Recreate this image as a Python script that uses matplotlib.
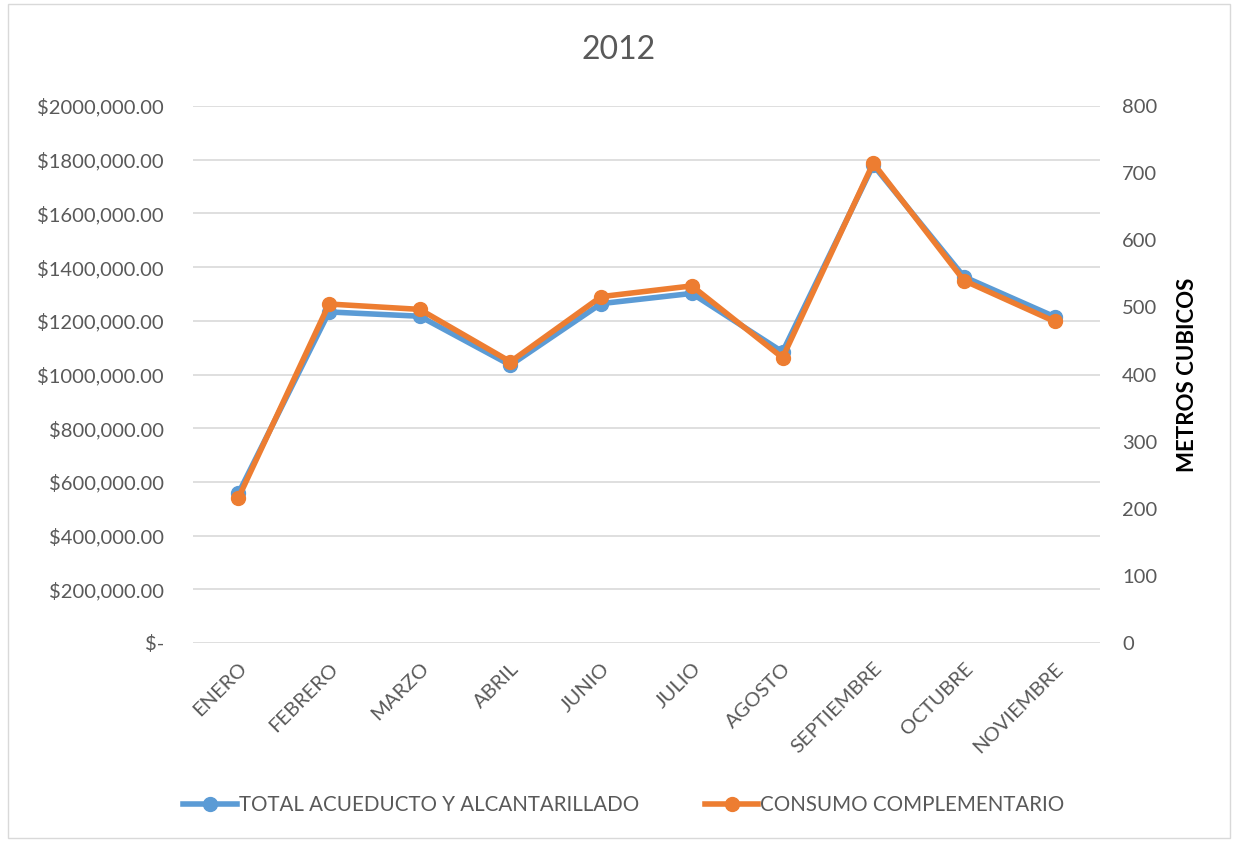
import matplotlib
matplotlib.use("Agg")
import matplotlib.pyplot as plt
from matplotlib.ticker import FuncFormatter, MultipleLocator
from matplotlib.patches import Rectangle

plt.rcParams['font.family'] = ['Lato', 'DejaVu Sans']

months = ["ENERO", "FEBRERO", "MARZO", "ABRIL", "JUNIO", "JULIO", "AGOSTO",
          "SEPTIEMBRE", "OCTUBRE", "NOVIEMBRE"]
total_acueducto = [557000, 1233000, 1217000, 1035000, 1264000, 1302000,
                   1084000, 1780000, 1364000, 1215000]
consumo_complementario = [216, 505, 497, 419, 516, 532, 425, 715, 540, 479]

blue = "#5B9BD5"
orange = "#ED7D31"
txt = "#595959"

fig = plt.figure(figsize=(12.38, 8.42), dpi=100)
ax = fig.add_axes([193/1238, 1-643/842, (1100-193)/1238, (643-106)/842])
ax2 = ax.twinx()

x = list(range(len(months)))
ax.plot(x, total_acueducto, color=blue, lw=4, marker='o', ms=10,
        label="TOTAL ACUEDUCTO Y ALCANTARILLADO", zorder=3)
ax2.plot(x, consumo_complementario, color=orange, lw=4, marker='o', ms=10,
         label="CONSUMO COMPLEMENTARIO", zorder=3)

ax.set_xlim(-0.5, len(months) - 0.5)
ax.set_ylim(0, 2000000)
ax2.set_ylim(0, 800)
ax.yaxis.set_major_locator(MultipleLocator(200000))
ax2.yaxis.set_major_locator(MultipleLocator(100))

def money(v, pos):
    if v == 0:
        return "$-"
    return "$" + str(int(round(v / 1000))) + ",000.00"

ax.yaxis.set_major_formatter(FuncFormatter(money))

ax.grid(axis='y', color="#D9D9D9", lw=1.2)
ax.set_axisbelow(True)
for a in (ax, ax2):
    for s in a.spines.values():
        s.set_visible(False)
    a.tick_params(length=0, colors=txt, labelsize=14.5)

ax.tick_params(axis='y', pad=21)
ax2.tick_params(axis='y', pad=16)
ax.set_xticks(x)
ax.set_xticklabels(months, rotation=45, ha='right', rotation_mode='anchor')
ax.tick_params(axis='x', pad=12)

ax2.set_ylabel("METROS CUBICOS", fontsize=16, fontweight='bold', color='black', labelpad=14)

fig.text(0.5, 1-50/842, "2012", ha='center', va='center', fontsize=23, color=txt)

h1, l1 = ax.get_legend_handles_labels()
h2, l2 = ax2.get_legend_handles_labels()
fig.legend(h1 + h2, l1 + l2, loc='center', bbox_to_anchor=(624/1238, 1-805/842),
           ncol=2, frameon=False, fontsize=14.8, labelcolor=txt,
           handlelength=2.6, handletextpad=0.1, columnspacing=3.2)

fig.patches.append(Rectangle((8/1238, 4/842), (1230-8)/1238, (838-4)/842,
                             transform=fig.transFigure, fill=False,
                             edgecolor="#D9D9D9", lw=1))

fig.savefig("out.png", dpi=100, facecolor='white')
